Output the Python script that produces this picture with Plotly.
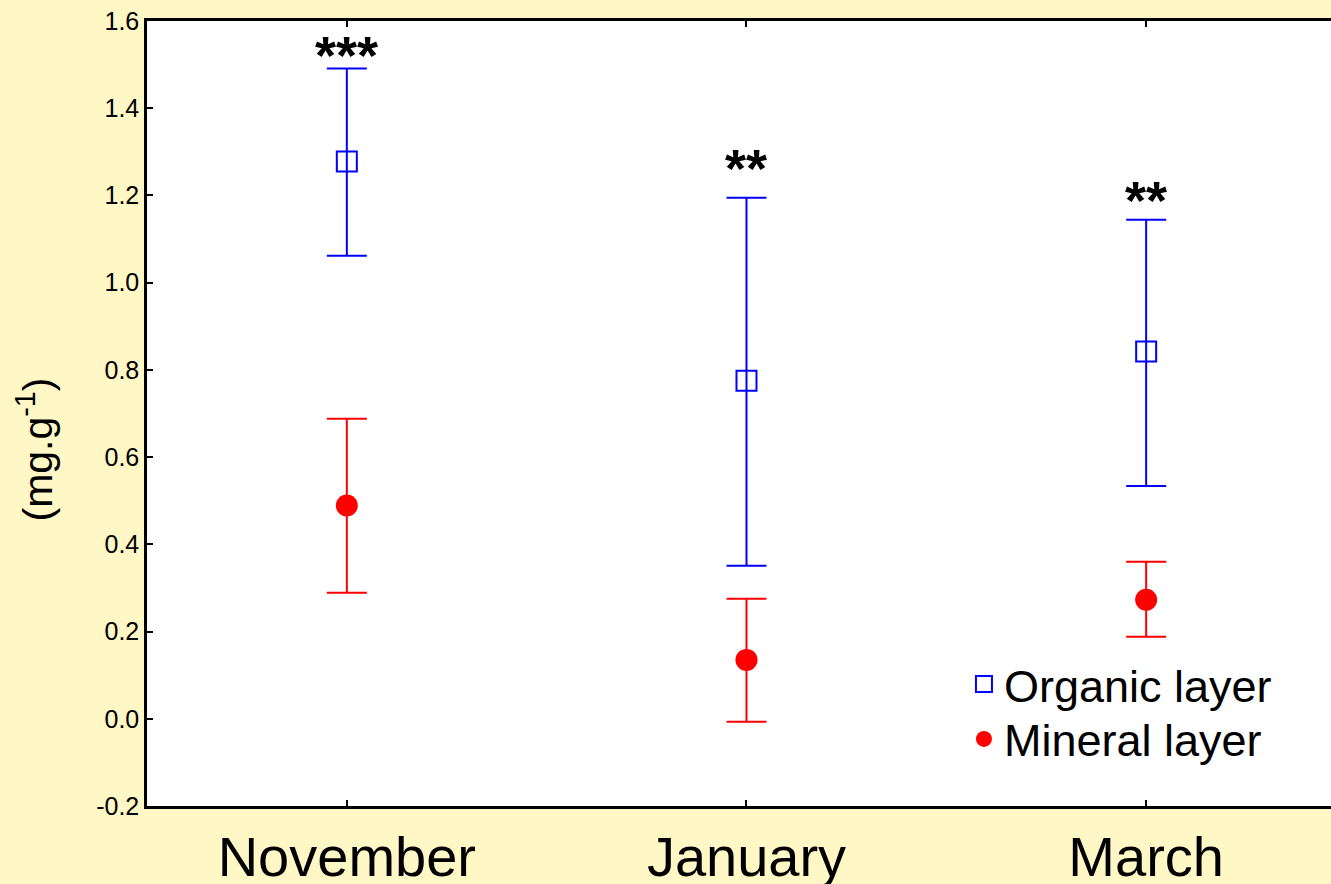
import plotly.graph_objects as go

months = ["November", "January", "March"]
organic_mean = [1.278, 0.775, 0.842]
organic_upper = [1.491, 1.195, 1.144]
organic_lower = [1.062, 0.351, 0.534]
mineral_mean = [0.489, 0.135, 0.273]
mineral_upper = [0.688, 0.275, 0.360]
mineral_lower = [0.289, -0.007, 0.188]
stars = ["***", "**", "**"]
star_y = [1.522, 1.264, 1.189]
y_ticks = [-0.2, 0.0, 0.2, 0.4, 0.6, 0.8, 1.0, 1.2, 1.4, 1.6]

xpos = list(range(len(months)))
FONT = "Arial, Liberation Sans, sans-serif"

def err(mean, up, lo):
    return dict(type="data", symmetric=False,
                array=[u - m for u, m in zip(up, mean)],
                arrayminus=[m - l for m, l in zip(mean, lo)],
                thickness=2, width=20)

fig = go.Figure()
fig.add_trace(go.Scatter(
    x=xpos, y=organic_mean, mode="markers", name="Organic layer", legend="legend",
    marker=dict(symbol="square-open", size=20, color="#0000FF", line=dict(width=2, color="#0000FF")),
    error_y=dict(**err(organic_mean, organic_upper, organic_lower), color="#0000FF"),
))
fig.add_trace(go.Scatter(
    x=xpos, y=mineral_mean, mode="markers", name="Mineral layer", legend="legend2",
    marker=dict(symbol="circle", size=22, color="#FF0000"),
    error_y=dict(**err(mineral_mean, mineral_upper, mineral_lower), color="#FF0000"),
))

for x, s, y in zip(xpos, stars, star_y):
    fig.add_annotation(x=x, y=y, text=f"<b>{s}</b>", showarrow=False, yanchor="middle",
                       font=dict(family=FONT, size=54, color="black"))

fig.add_annotation(xref="paper", yref="paper", x=-0.095, y=0.4535,
                   text="(mg.g<sup>-1</sup>)", textangle=-90, showarrow=False,
                   xanchor="center", yanchor="middle",
                   font=dict(family=FONT, size=41, color="black"))

leg = dict(xanchor="left", yanchor="top", bgcolor="rgba(0,0,0,0)",
           font=dict(family=FONT, size=45))
fig.update_layout(
    width=1331, height=884,
    margin=dict(l=147, r=0, t=21, b=78),
    paper_bgcolor="#FFF7C5", plot_bgcolor="white",
    font=dict(family=FONT, color="black"),
    showlegend=True,
    legend=dict(x=0.69, y=0.201, **leg),
    legend2=dict(x=0.69, y=0.131, **leg),
)
fig.update_xaxes(
    range=[-0.5, 2.4625], tickvals=xpos, ticktext=months, automargin=False,
    showline=True, linecolor="black", linewidth=2.5, mirror="ticks",
    ticks="inside", ticklen=6, tickwidth=2, tickcolor="black",
    showgrid=False, zeroline=False,
    tickfont=dict(family=FONT, size=56),
)
fig.update_yaxes(
    range=[-0.2, 1.6], tickvals=y_ticks, ticktext=[f"{v:.1f}" for v in y_ticks],
    automargin=False,
    showline=True, linecolor="black", linewidth=2.5,
    ticks="inside", ticklen=6, tickwidth=2, tickcolor="black",
    showgrid=False, zeroline=False,
    tickfont=dict(family=FONT, size=25),
)

fig.write_html("out.html", config={"displayModeBar": False},
               post_script="document.body.style.margin='0';document.body.style.overflow='hidden';")
